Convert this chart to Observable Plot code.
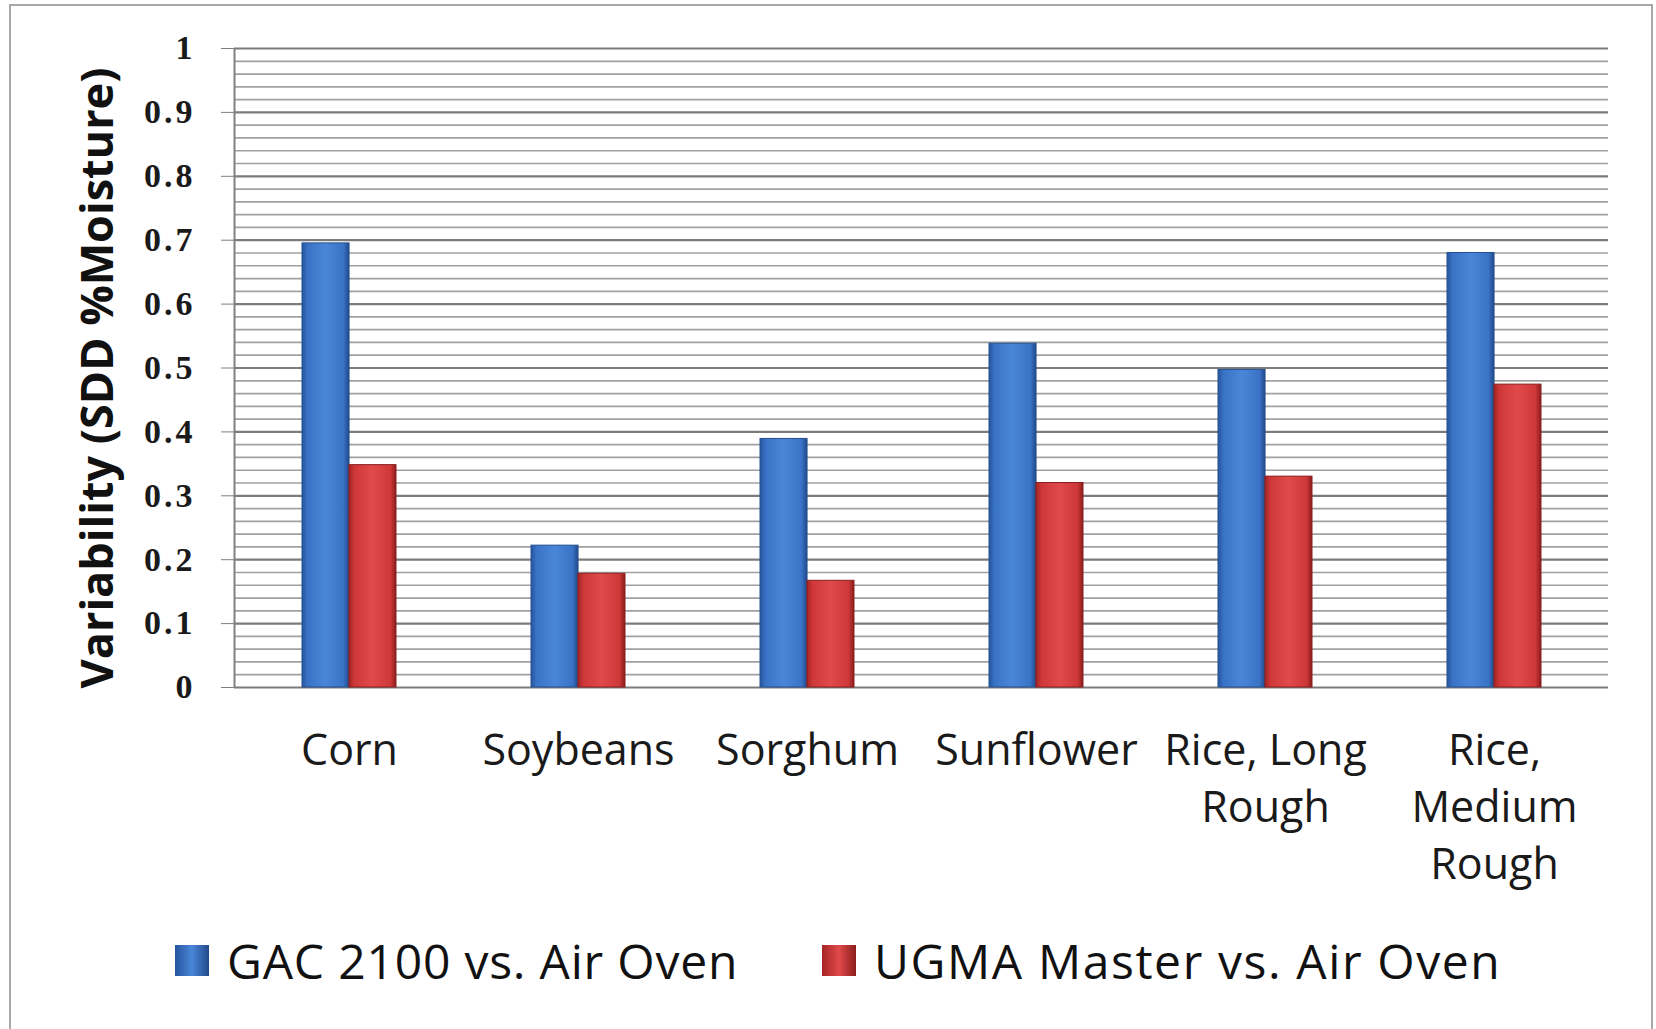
<!DOCTYPE html>
<html><head><meta charset="utf-8">
<script src="https://cdn.jsdelivr.net/npm/d3@7"></script>
<script src="https://cdn.jsdelivr.net/npm/@observablehq/plot@0.6"></script>
<style>
body{margin:0;background:#fff}
#wrap{position:relative;width:1656px;height:1029px;overflow:hidden;background:#fff}
#frame{position:absolute;left:9px;top:4px;width:1644px;height:1050px;border:2px solid #a8a8a8;box-sizing:border-box}
#chart{position:absolute;left:0;top:0}
.item{position:absolute;top:928px;display:flex;align-items:center;font-family:'Open Sans';font-size:48px;color:#111;white-space:pre}
.sw{width:34px;height:31px;display:inline-block;margin-right:18px;box-sizing:border-box}
</style></head><body>
<div id="wrap"><div id="frame"></div><div id="chart"></div></div>
<script>
// ---- data ----
const categories = ["Corn", "Soybeans", "Sorghum", "Sunflower", "Rice, Long\nRough", "Rice,\nMedium\nRough"];
const gacValues  = [0.695, 0.222, 0.389, 0.538, 0.497, 0.680];
const ugmaValues = [0.348, 0.178, 0.167, 0.320, 0.330, 0.474];
const seriesNames = ["GAC 2100 vs. Air Oven", "UGMA Master vs. Air Oven"];
const yTicks = [0, 0.1, 0.2, 0.3, 0.4, 0.5, 0.6, 0.7, 0.8, 0.9, 1];
const yTickLabels = ["0", "0.1", "0.2", "0.3", "0.4", "0.5", "0.6", "0.7", "0.8", "0.9", "1"];
const yMinorTicks = d3.range(0, 51).map(i => i / 50).filter(v => Math.abs(v * 10 - Math.round(v * 10)) > 1e-6);
const yTitle = "Variability (SDD %Moisture)";

// ---- layout ----
const W = 1656, H = 900;
const mL = 234, mR = 48, mT = 48, mB = 213;
const fw = W - mL - mR, fh = H - mT - mB;
const padIn = 0.59, padOut = 0.295;
const bandW = fw / (categories.length - padIn + 2 * padOut) * (1 - padIn);

const gacRows = categories.map((c, i) => ({category: c, value: gacValues[i]}));
const ugmaRows = categories.map((c, i) => ({category: c, value: ugmaValues[i]}));

const chart = Plot.plot({
  width: W, height: H,
  marginLeft: mL, marginRight: mR, marginTop: mT, marginBottom: mB,
  style: {background: "transparent", overflow: "visible"},
  x: {type: "band", domain: categories, paddingInner: padIn, paddingOuter: padOut, axis: null},
  y: {domain: [0, 1], axis: null},
  marks: [
    Plot.ruleY(yMinorTicks, {stroke: "#a0a0a0", strokeWidth: 1.7}),
    Plot.ruleY(yTicks, {stroke: "#7c7c7c", strokeWidth: 2.2}),
    Plot.frame({stroke: "#808080", strokeWidth: 2, strokeDasharray: `0 ${2 * fw + fh} ${fh}`}),
    Plot.axisY(yTicks, {
      tickSize: 13, tickPadding: 26, stroke: "#808080", fill: "#1a1a1a",
      tickFormat: (d) => yTickLabels[yTicks.indexOf(d)],
      fontFamily: "Liberation Serif", fontWeight: "bold", fontSize: 34, label: null
    }),
    Plot.axisX(categories, {
      tickSize: 0, tickPadding: 37, fill: "#1a1a1a", anchor: "bottom",
      fontFamily: "Open Sans", fontSize: 43, lineHeight: 1.33, label: null
    }),
    Plot.barY(gacRows, {x: "category", y: "value", fill: "url(#gBlue)", stroke: "#24508f", strokeWidth: 1, insetRight: bandW / 2}),
    Plot.barY(ugmaRows, {x: "category", y: "value", fill: "url(#gRed)", stroke: "#8a1f1f", strokeWidth: 1, insetLeft: bandW / 2}),
    Plot.text([yTitle], {frameAnchor: "left", textAnchor: "middle", rotate: -90, dx: -136, dy: 10,
      fontFamily: "Open Sans", fontWeight: "bold", fontSize: 45, fill: "#111"})
  ]
});

const svg = d3.select(chart);
svg.selectAll("g[aria-label='y-axis tick label']").style("letter-spacing", "3px");
const defs = svg.insert("defs", ":first-child");
function grad(id, stops) {
  const g = defs.append("linearGradient").attr("id", id).attr("x1", "0").attr("x2", "1").attr("y1", "0").attr("y2", "0");
  stops.forEach(([o, c]) => g.append("stop").attr("offset", o).attr("stop-color", c));
}
grad("gBlue", [[0, "#25559e"], [0.12, "#3a73c6"], [0.5, "#4a86d8"], [0.88, "#3a73c6"], [1, "#21498a"]]);
grad("gRed", [[0, "#a52424"], [0.12, "#cf3838"], [0.5, "#e04a4a"], [0.88, "#cf3838"], [1, "#8c1c1c"]]);

document.getElementById("chart").appendChild(chart);

const wrap = document.getElementById("wrap");
const swatchFills = [
  "linear-gradient(to right,#25559e,#4a86d8 50%,#21498a)",
  "linear-gradient(to right,#a52424,#e04a4a 50%,#8c1c1c)"
];
const legendLeft = [175, 822];
const legendSpacing = ["0.8px", "1.6px"];
seriesNames.forEach((name, i) => {
  const it = document.createElement("div");
  it.className = "item";
  it.style.left = legendLeft[i] + "px";
  const sw = document.createElement("span");
  sw.className = "sw";
  sw.style.background = swatchFills[i];
  const tx = document.createElement("span");
  tx.style.letterSpacing = legendSpacing[i];
  tx.textContent = name;
  it.appendChild(sw); it.appendChild(tx);
  wrap.appendChild(it);
});
</script>
</body></html>
